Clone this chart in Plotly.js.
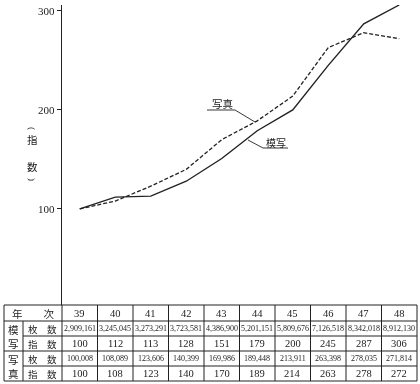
<!DOCTYPE html>
<html>
<head>
<meta charset="utf-8">
<script src="https://cdn.plot.ly/plotly-3.0.1.min.js"></script>
<style>html,body{margin:0;padding:0;background:#fff;}#chart{width:420px;height:384px;filter:grayscale(1);}</style>
</head>
<body>
<div id="chart"></div>
<script>
// ---- data ----
var years = [39, 40, 41, 42, 43, 44, 45, 46, 47, 48];
var moshaCount = [2909161, 3245045, 3273291, 3723581, 4386900, 5201151, 5809676, 7126518, 8342018, 8912130];
var moshaIndex = [100, 112, 113, 128, 151, 179, 200, 245, 287, 306];
var shashinCount = [100008, 108089, 123606, 140399, 169986, 189448, 213911, 263398, 278035, 271814];
var shashinIndex = [100, 108, 123, 140, 170, 189, 214, 263, 278, 272];
var yTicks = [100, 200, 300];
var seriesNames = ['模写', '写真'];
var headerLabel = '年　　次';
var rowLabels = ['枚　数', '指　数'];

// ---- geometry helpers (pixels -> paper) ----
var W = 420, H = 384;
function X(p) { return p / W; }
function Y(p) { return 1 - p / H; }
var SERIF = 'Liberation Serif, DejaVu Serif, serif';
var JP = 'Noto Sans CJK JP, sans-serif';
var INK = '#222222';

var plotL = 62, plotR = 417, plotT = 5, plotB = 305;

var traces = [
  {x: years, y: moshaIndex, name: seriesNames[0], mode: 'lines', type: 'scatter',
   line: {color: INK, width: 1.4}, cliponaxis: false, hoverinfo: 'skip'},
  {x: years, y: shashinIndex, name: seriesNames[1], mode: 'lines', type: 'scatter',
   line: {color: INK, width: 1.3, dash: '4px,2px'}, cliponaxis: false, hoverinfo: 'skip'}
];

var shapes = [];
var annotations = [];
function hline(y, x0, x1) { shapes.push({type: 'line', xref: 'paper', yref: 'paper', x0: X(x0), x1: X(x1), y0: Y(y), y1: Y(y), line: {color: INK, width: 1}}); }
function vline(x, y0, y1) { shapes.push({type: 'line', xref: 'paper', yref: 'paper', x0: X(x), x1: X(x), y0: Y(y0), y1: Y(y1), line: {color: INK, width: 1}}); }
function txt(t, x, y, size, fam, angle) {
  annotations.push({text: t, xref: 'paper', yref: 'paper', x: X(x), y: Y(y), showarrow: false,
    textangle: angle || 0,
    xanchor: 'center', yanchor: 'middle', font: {family: fam || SERIF, size: size, color: INK}});
}

// ---- table ----
var rows = [305, 321, 336, 351, 366, 381];
var tL = 4, tSub = 23, colW = (plotR - plotL) / years.length;
hline(rows[0], tL, plotR);
hline(rows[1], tL, plotR);
hline(rows[2], tSub, plotR);
hline(rows[3], tL, plotR);
hline(rows[4], tSub, plotR);
hline(rows[5], tL, plotR);
vline(tL, rows[0], rows[5]);
vline(tSub, rows[1], rows[5]);
for (var i = 0; i <= years.length; i++) vline(plotL + i * colW, (i === 0 ? plotB : rows[0]), rows[5]);

function mid(a, b) { return (a + b) / 2; }
txt(headerLabel, mid(tL, plotL), mid(rows[0], rows[1]) , 10.5, JP);
txt('模<br>写', mid(tL, tSub), mid(rows[1], rows[3]), 10.5, JP);
txt('写<br>真', mid(tL, tSub), mid(rows[3], rows[5]), 10.5, JP);
txt(rowLabels[0], mid(tSub, plotL), mid(rows[1], rows[2]), 9.5, JP);
txt(rowLabels[1], mid(tSub, plotL), mid(rows[2], rows[3]), 9.5, JP);
txt(rowLabels[0], mid(tSub, plotL), mid(rows[3], rows[4]), 9.5, JP);
txt(rowLabels[1], mid(tSub, plotL), mid(rows[4], rows[5]), 9.5, JP);
function fmt(n) { return n.toLocaleString('en-US'); }
for (var j = 0; j < years.length; j++) {
  var cx = plotL + (j + 0.5) * colW;
  txt(String(years[j]), cx, mid(rows[0], rows[1]) + 0.5, 10.5);
  txt(fmt(moshaCount[j]), cx, mid(rows[1], rows[2]), 8);
  txt(String(moshaIndex[j]), cx, mid(rows[2], rows[3]), 10.5);
  txt(fmt(shashinCount[j]), cx, mid(rows[3], rows[4]), 8);
  txt(String(shashinIndex[j]), cx, mid(rows[4], rows[5]), 10.5);
}

// ---- y axis label (vertical, parentheses rotated) ----
txt('(', 32, 128, 9, SERIF, 90);
txt('指', 32, 140, 10.5, JP);
txt('数', 32, 167, 10.5, JP);
txt(')', 32, 179, 9, SERIF, 90);

// ---- series labels with leaders ----
txt(seriesNames[1], 222, 103, 10.5, JP);
txt(seriesNames[0], 276, 142, 10, JP);
function seg(x0, y0, x1, y1) { shapes.push({type: 'line', xref: 'paper', yref: 'paper', x0: X(x0), x1: X(x1), y0: Y(y0), y1: Y(y1), line: {color: INK, width: 0.9}}); }
seg(207, 110, 235, 110); seg(235, 110, 255, 122);
seg(248, 140, 263, 148); seg(263, 148, 288, 148);

var layout = {
  width: W, height: H,
  margin: {l: 0, r: 0, t: 0, b: 0},
  paper_bgcolor: '#fff', plot_bgcolor: 'rgba(0,0,0,0)',
  showlegend: false,
  xaxis: {domain: [X(plotL), X(plotR)], range: [38.5, 48.5], visible: false, fixedrange: true},
  yaxis: {domain: [Y(plotB), Y(plotT)], range: [3, 306], tickvals: yTicks, ticktext: yTicks.map(String),
    showline: true, linecolor: INK, linewidth: 1.2, ticks: 'outside', ticklen: 4, tickcolor: INK, tickwidth: 1,
    showgrid: false, zeroline: false, tickfont: {family: SERIF, size: 11, color: INK}, fixedrange: true},
  shapes: shapes,
  annotations: annotations
};
Plotly.newPlot('chart', traces, layout, {displayModeBar: false, staticPlot: true});
</script>
</body>
</html>
